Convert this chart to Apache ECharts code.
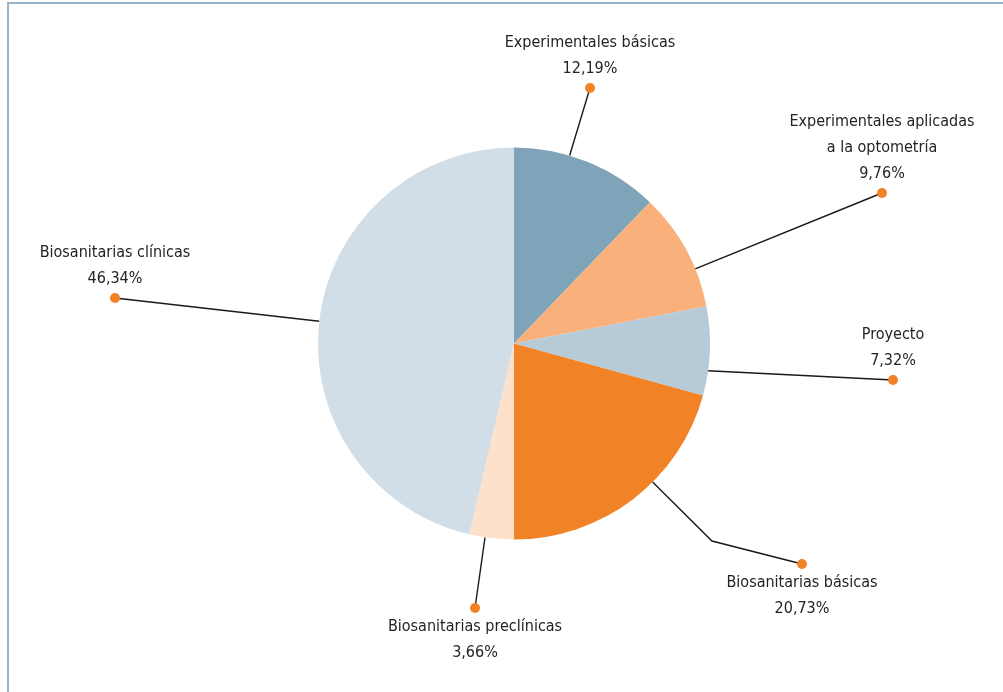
<!DOCTYPE html>
<html>
<head>
<meta charset="utf-8">
<script src="https://cdn.jsdelivr.net/npm/echarts@6/dist/echarts.min.js"></script>
<style>
  html, body { margin: 0; padding: 0; background: #ffffff; }
  #frame {
    position: absolute; left: 7px; top: 2px; right: 0; bottom: 0;
    border-top: 2px solid #98b3c5; border-left: 2px solid #98b3c5;
  }
  #chart { position: absolute; left: 0; top: 0; width: 1003px; height: 692px; }
</style>
</head>
<body>
<div id="frame"></div>
<div id="chart"></div>
<script>
// Share of credits by subject group (percent)
const categories = [
  'Experimentales básicas',
  'Experimentales aplicadas\na la optometría',
  'Proyecto',
  'Biosanitarias básicas',
  'Biosanitarias preclínicas',
  'Biosanitarias clínicas'
];
const values = [12.19, 9.76, 7.32, 20.73, 3.66, 46.34];
const sliceColors = ['#7fa3b9', '#f9b07a', '#b7cad7', '#f28226', '#fde1cb', '#d1dee7'];

// Pie geometry
const CX = 514, CY = 343.5, R = 196;

// Callout layout: where the leader leaves the rim (degrees clockwise from 12 o'clock),
// where its dot sits, whether the text stacks above or below the dot, optional bend.
const callouts = [
  { angle: 16.5,  dot: [590, 88],  side: 'above' },
  { angle: 67.6,  dot: [882, 193], side: 'above' },
  { angle: 98,    dot: [893, 380], side: 'above' },
  { angle: 135,   dot: [802, 564], side: 'below', bend: [712, 541] },
  { angle: 188.5, dot: [475, 608], side: 'below' },
  { angle: 276.5, dot: [115, 298], side: 'above' }
];

const DOT_LINE = 12;
const FONT = '"DejaVu Sans", sans-serif';
const textStyle = {
  fontFamily: FONT,
  fontWeight: 'condensed',
  fontSize: 16,
  lineHeight: 26,
  color: '#232323',
  align: 'center'
};
const fmtPct = v => v.toFixed(2).replace('.', ',') + '%';

const data = categories.map((name, i) => ({
  name: name,
  value: values[i],
  itemStyle: { color: sliceColors[i] }
}));

const chart = echarts.init(document.getElementById('chart'), null, { renderer: 'canvas' });

chart.setOption({
  animation: false,
  series: [{
    type: 'pie',
    center: [CX, CY],
    radius: [0, R],
    startAngle: 90,
    clockwise: true,
    avoidLabelOverlap: false,
    silent: true,
    itemStyle: { borderWidth: 0 },
    label: {
      show: true,
      position: 'outside',
      fontFamily: FONT,
      fontWeight: 'condensed',
      fontSize: 16,
      color: '#232323',
      formatter: function (p) {
        const nameLines = p.name.split('\n').map(s => '{n|' + s + '}');
        const textLines = nameLines.concat(['{p|' + fmtPct(p.value) + '}']);
        const dot = '{d|}';
        return callouts[p.dataIndex].side === 'above'
          ? textLines.concat([dot]).join('\n')
          : [dot].concat(textLines).join('\n');
      },
      rich: {
        n: textStyle,
        p: textStyle,
        d: { width: 10, height: 10, borderRadius: 5, backgroundColor: '#f28226', lineHeight: DOT_LINE, align: 'center' }
      }
    },
    labelLine: {
      show: true,
      length: 10,
      length2: 10,
      smooth: false,
      lineStyle: { color: '#1a1a1a', width: 1.4 }
    },
    labelLayout: function (params) {
      const c = callouts[params.dataIndex];
      const a = c.angle * Math.PI / 180;
      const start = [CX + R * Math.sin(a), CY - R * Math.cos(a)];
      const pts = [start];
      if (c.bend) pts.push(c.bend);
      pts.push(c.dot);
      const half = DOT_LINE / 2;
      return {
        x: c.dot[0],
        y: c.side === 'above' ? c.dot[1] + half : c.dot[1] - half,
        align: 'center',
        verticalAlign: c.side === 'above' ? 'bottom' : 'top',
        labelLinePoints: pts
      };
    },
    data: data
  }]
});
</script>
</body>
</html>
